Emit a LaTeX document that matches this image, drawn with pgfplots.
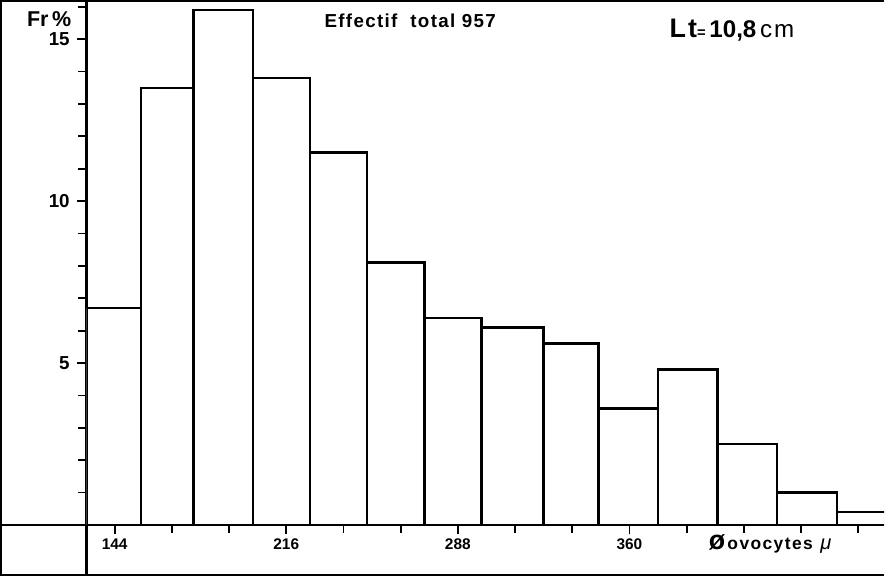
\documentclass[border=0pt]{standalone}
\usepackage{fontspec}
\setmainfont{Liberation Sans}
\usepackage{pgfplots}
\pgfplotsset{compat=1.18}
\begin{document}
\begin{tikzpicture}
\begin{axis}[
  scale only axis, width=594.75pt, height=390.75pt,
  xmin=132.19, xmax=466.8, ymin=0, ymax=16.18,
  axis lines*=left,
  axis line style={line width=1.5pt, -},
  clip mode=individual,
  tick align=outside,
  major tick length=7pt, minor tick length=6pt,
  tick style={line width=1.3pt, black},
  ytick={5,10,15}, yticklabels={5,10,15},
  minor ytick={1,2,3,4,6,7,8,9,11,12,13,14,16},
  xtick={144,216,288,360}, xticklabels={144,216,288,360},
  minor xtick={168,192,240,264,312,336,384,408,432,456},
  xticklabel style={font=\bfseries\fontsize{11.5}{12}\selectfont},
  yticklabel style={font=\bfseries\fontsize{14}{14}\selectfont, xshift=-2pt},
  /pgf/number format/assume math mode=true,
]
\addplot[ybar interval, fill=white, draw=black, line width=1.8pt] coordinates {
  (132.19,6.7) (155,13.5) (177,15.9) (202,13.8) (226,11.5) (250,8.1)
  (274,6.4) (298,6.1) (324,5.6) (347,3.6) (372,4.8) (397,2.5)
  (422,1.0) (447,0.4) (480,0.4)};
% outer frame and axis extensions
\draw[line width=1.5pt] (axis cs:466.8,16.18) -- (axis cs:96.32,16.18) -- (axis cs:96.32,-1.553) -- (axis cs:466.8,-1.553);
\draw[line width=1.5pt] (axis cs:96.32,0) -- (axis cs:132.19,0);
\draw[line width=1.5pt] (axis cs:132.19,0) -- (axis cs:132.19,-1.553);
% texts
\node[font=\bfseries\fontsize{16}{16}\selectfont] at (axis cs:116.5,15.62) {Fr\,\%};
\node[font=\bfseries\fontsize{14}{14}\selectfont\addfontfeature{LetterSpace=7}] at (axis cs:268,15.56) {Effectif\ \ total 957};
\node at (axis cs:403,15.28) {{\bfseries\fontsize{20}{20}\selectfont\addfontfeature{LetterSpace=8}Lt}{\bfseries\fontsize{11}{12}\selectfont=}\ {\bfseries\fontsize{18}{20}\selectfont 10,8}\ {\fontsize{18}{20}\selectfont\addfontfeature{LetterSpace=8}cm}};
\node at (axis cs:419,-0.59) {{\bfseries\fontsize{20}{20}\selectfont ø}\,{\bfseries\fontsize{13}{14}\selectfont\addfontfeature{LetterSpace=8}ovocytes}\ \ {\itshape\fontsize{15}{14}\selectfont μ}};
\end{axis}
\end{tikzpicture}
\end{document}
